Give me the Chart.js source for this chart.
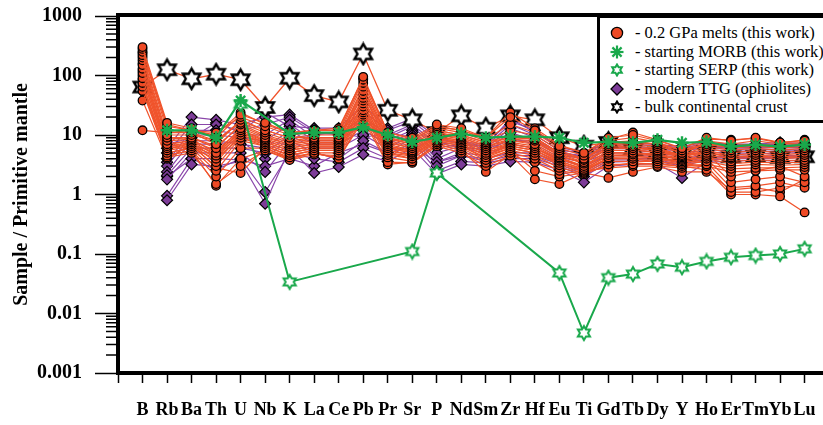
<!DOCTYPE html>
<html><head><meta charset="utf-8">
<script src="https://cdn.jsdelivr.net/npm/chart.js@4.4.1/dist/chart.umd.min.js"></script>
<style>
html,body{margin:0;padding:0;background:#fff;overflow:hidden;}
#wrap{position:relative;width:823px;height:425px;overflow:hidden;}
#legend{position:absolute;left:597px;top:15px;width:250px;height:108px;border:3px solid #000;background:#fff;
 font-family:"Liberation Serif","DejaVu Serif","Times New Roman",Times,serif;font-size:16.5px;color:#000;padding-top:6px;box-sizing:border-box;}
.row{height:18.5px;line-height:18.5px;white-space:nowrap;display:flex;align-items:center;}
.row svg{margin-left:10px;margin-right:11px;flex:none;}
</style></head>
<body><div id="wrap"><canvas id="c" width="823" height="425"></canvas>
<div id="legend">
 <div class="row"><svg width="14" height="14"><circle cx="7" cy="7" r="5.6" fill="#EF4A25" stroke="#000" stroke-width="1.3"/></svg><span>- 0.2 GPa melts (this work)</span></div>
 <div class="row"><svg width="14" height="14"><g stroke="#19A84B" stroke-width="2.2"><line x1="7" y1="0.5" x2="7" y2="13.5"/><line x1="0.5" y1="7" x2="13.5" y2="7"/><line x1="2.4" y1="2.4" x2="11.6" y2="11.6"/><line x1="11.6" y1="2.4" x2="2.4" y2="11.6"/></g></svg><span>- starting MORB (this work)</span></div>
 <div class="row"><svg width="14" height="14"><polygon points="7,1.5 8.6,4.2 11.8,4.2 10.2,7 11.8,9.8 8.6,9.8 7,12.5 5.4,9.8 2.2,9.8 3.8,7 2.2,4.2 5.4,4.2" fill="#fff" stroke="#19A84B" stroke-width="2"/></svg><span>- starting SERP (this work)</span></div>
 <div class="row"><svg width="14" height="14"><polygon points="7,1 13,7 7,13 1,7" fill="#7D3C98" stroke="#000" stroke-width="1.3"/></svg><span>- modern TTG (ophiolites)</span></div>
 <div class="row"><svg width="14" height="14"><polygon points="7,1.5 8.6,4.2 11.8,4.2 10.2,7 11.8,9.8 8.6,9.8 7,12.5 5.4,9.8 2.2,9.8 3.8,7 2.2,4.2 5.4,4.2" fill="#fff" stroke="#000" stroke-width="2"/></svg><span>- bulk continental crust</span></div>
</div></div>
<script>
// ---------- data ----------
const categories = ['B','Rb','Ba','Th','U','Nb','K','La','Ce','Pb','Pr','Sr','P','Nd','Sm','Zr','Hf','Eu','Ti','Gd','Tb','Dy','Y','Ho','Er','Tm','Yb','Lu'];
const yTickValues = [0.001, 0.01, 0.1, 1, 10, 100, 1000];
const yTickLabels = ['0.001', '0.01', '0.1', '1', '10', '100', '1000'];
const yTitle = 'Sample / Primitive mantle';

// 0.2 GPa melts (this work)
const melt01 = [300, 16, 13, 9, 22, 16, 11, 12, 12, 95, 11, 9, 15, 13, 9, 20, 12, 6.5, 5, 9, 10, 8, 6, 9, 8, 9, 7.5, 8];
const melt02 = [280, 14, 12, 11, 20, 14, 10, 11, 11, 85, 10, 8, 14, 12, 8.5, 15, 11, 6, 4.5, 8, 9, 7.5, 5.5, 8, 7, 8, 7, 7.5];
const melt03 = [250, 12, 11, 7, 18, 12, 9, 10, 10, 75, 9, 7.5, 13, 11, 8, 12, 10, 5.5, 4, 7.5, 8, 7, 5, 7.5, 6.5, 7, 6.5, 7];
const melt04 = [220, 10, 10, 8, 16, 11, 8, 9, 9, 65, 8.5, 7, 12, 10, 7.5, 10, 9, 5, 3.8, 7, 7, 6.5, 5, 7, 6, 6.5, 6, 6.5];
const melt05 = [200, 9, 9, 6, 15, 10, 7.5, 8.5, 8.5, 55, 8, 6.5, 11, 9.5, 7, 9, 8.5, 4.8, 3.5, 6.5, 6.5, 6, 4.6, 6.5, 5.5, 6, 5.5, 6];
const melt06 = [180, 8, 8.5, 5, 13, 9, 7, 8, 8, 48, 7.5, 6, 11, 9, 6.5, 8.5, 8, 4.5, 3.3, 6, 6, 5.5, 4.4, 6, 5, 5.5, 5, 5.5];
const melt07 = [150, 7, 8, 4.5, 12, 8.5, 6.5, 7.5, 7.5, 42, 7, 5.5, 10, 8.5, 6, 8, 7, 4.2, 3, 5.5, 5.5, 5.2, 4.2, 5.5, 4.5, 5, 4.6, 5];
const melt08 = [130, 6.5, 7.5, 4, 11, 8, 6, 7, 7, 38, 6.5, 5.2, 9.5, 8, 5.5, 7.5, 6.5, 4, 2.8, 5, 5, 4.8, 4, 5, 4.2, 4.6, 4.3, 4.6];
const melt09 = [110, 6, 7, 3.5, 10, 7.5, 5.5, 6.5, 6.5, 34, 6, 5, 9, 7.5, 5, 7, 6, 3.7, 2.6, 4.6, 4.7, 4.5, 3.8, 4.6, 4, 4.2, 4, 4.2];
const melt10 = [90, 5.5, 6.5, 3, 9, 7, 5, 6, 6, 30, 5.5, 4.7, 8.5, 7, 4.6, 6.5, 5.5, 3.4, 2.5, 4.2, 4.3, 4.2, 3.6, 4.3, 3.6, 3.8, 3.7, 3.8];
const melt11 = [75, 5, 6, 2.5, 8, 6.5, 4.6, 5.5, 5.5, 26, 5, 4.4, 8, 6.5, 4.2, 6, 5, 3.1, 2.4, 4, 4, 3.9, 3.4, 4, 3.3, 3.5, 3.4, 3.5];
const melt12 = [65, 4.5, 5.5, 2, 6, 6, 4.2, 5, 5, 24, 4.6, 4, 7.5, 6, 3.8, 5.5, 4.5, 2.8, 2.3, 3.6, 3.6, 3.6, 3.2, 3.6, 3, 3.2, 3.1, 3.2];
const melt13 = [55, 4.2, 5, 1.5, 3, 5.5, 3.8, 4.7, 4.5, 22, 4.2, 3.6, 7, 5.5, 3.4, 5, 4, 2.5, 2.2, 3.2, 3.2, 3.3, 3, 3.2, 2.7, 2.8, 2.8, 2.9];
const melt14 = [38, 4, 7, 2.8, 2.3, 6, 4, 5, 4, 20, 3.5, 3.4, 6.5, 5, 3, 4.5, 3.5, 2.2, 2.5, 2.8, 3, 3, 2.8, 3, 2.4, 2.5, 2.6, 2.6];
const melt15 = [12, 11, 11, 8, 17, 12, 9, 9, 9, 60, 9, 7, 12, 10, 7.5, 9, 9, 5, 4, 7, 7.5, 7, 5.5, 7, 6.5, 7, 6.5, 7];
const melt16 = [240, 15, 12, 10, 24, 15, 11, 12, 13, 90, 11, 8.5, 14, 12, 9, 24, 13, 6.8, 5, 8.5, 11, 8.3, 6, 8.5, 8.3, 8.8, 7.4, 8.3];
const melt17 = [160, 8.5, 9, 6.5, 14, 9.5, 7, 8, 8, 50, 7.5, 6, 10, 9, 6.5, 8, 7.5, 4.5, 3.4, 6, 6, 5.8, 4.5, 5, 2, 2.5, 3, 2];
const melt18 = [120, 7, 8, 5.5, 12, 8, 6, 7, 7, 40, 6.5, 5.5, 9.5, 8, 5.5, 7, 6, 4, 3, 5, 5, 4.5, 4, 4, 1.6, 1.8, 2, 1.6];
const melt19 = [100, 6.5, 7, 5, 11, 7.5, 5.5, 6.5, 6.5, 32, 6, 5, 9, 7.5, 5, 6.5, 5.5, 3.6, 2.7, 4.5, 4.5, 4, 3.6, 3.5, 1.3, 1.4, 1.6, 1.3];
const melt20 = [85, 6, 6.5, 4.5, 10, 7, 5, 6, 6, 28, 5.5, 4.5, 8.5, 7, 4.5, 6, 5, 3.3, 2.6, 4, 4, 3.5, 3.3, 3, 1.1, 1.1, 1.3, 1.5];
const melt21 = [70, 5, 6, 4, 9, 6.5, 4.5, 5.5, 5.5, 25, 5, 4, 8, 6.5, 4, 5.5, 2.5, 2, 2.3, 3, 3.4, 3.2, 3, 2.6, 1, 1, 0.93, 0.5];
const melt22 = [60, 4.5, 5.5, 1.4, 4, 5.5, 4, 5, 4, 18, 3.2, 3.5, 7, 5.5, 2.4, 4.7, 1.8, 1.5, 2.3, 1.9, 2.4, 2.9, 2.4, 2.4, 1.2, 1.3, 1.1, 1.8];

// modern TTG (ophiolites)
const ttg01 = [null, 0.8, 3.2, 3, 3.6, 0.7, 6, 2.3, 2.9, 4.7, 3.6, 6, 2.2, 3.2, 3, 3.6, 3.5, 2.6, 1.6, 3, 3.2, 3.3, 1.9, 3.5, 3.6, 3.8, 3.6, 3.8];
const ttg02 = [null, 0.95, 4, 2.6, 4, 1.1, 5, 4, 3.5, 6, 4, 8, 2.5, 3.6, 3.4, 4, 4, 3, 2, 3.5, 3.6, 3.6, 3, 3.8, 4, 4, 4, 4.2];
const ttg03 = [null, 1.8, 5, 5, 5, 2.4, 8, 5, 4, 8, 5, 9, 3, 4.5, 4, 5, 5, 3.4, 2.4, 4, 4, 4, 3.5, 4.2, 4.4, 4.4, 4.5, 4.6];
const ttg04 = [null, 2.1, 6, 6, 6, 5, 10, 6, 6, 10, 6, 10, 3.5, 5, 4.5, 7, 6, 3.8, 3, 4.5, 4.5, 4.4, 4, 4.6, 4.8, 4.8, 5, 5];
const ttg05 = [null, 2.4, 8, 8, 7, 6, 12, 7, 7, 12, 7, 11, 4, 6, 5, 9, 7, 4.2, 3.5, 5, 5, 4.8, 4.5, 5, 5.2, 5.2, 5.4, 5.4];
const ttg06 = [null, 3, 10, 10, 9, 8, 15, 8, 8, 15, 8, 12, 5, 6.5, 5.5, 11, 8, 4.6, 4, 5.5, 5.5, 5.2, 5, 5.5, 5.6, 5.6, 5.8, 5.8];
const ttg07 = [null, 3.5, 12, 12, 10, 10, 18, 9, 9, 18, 9, 14, 6, 7, 6, 13, 9, 5, 4.5, 6, 6, 5.6, 5.5, 6, 6, 6, 6.2, 6.2];
const ttg08 = [null, 5, 15, 15, 12, 15, 20, 11, 10, 20, 10, 15, 7, 7.5, 6.5, 15, 10, 5.5, 5, 6.5, 6.5, 6, 6, 6.5, 6.4, 6.4, 6.6, 6.6];
const ttg09 = [null, 6, 20, 18, 15, 20, 22, 12, 12, 25, 12, 17, 8, 7.7, 7, 17, 12, 6, 5.5, 7, 7, 6.5, 6.2, 7, 6.8, 6.8, 7, 7];
const ttg10 = [null, 7, 9, 16, 11, 24, 14, 13, 13, 32, 13, 19, 9, 7, 6.5, 19, 11, 6.5, 4.8, 8, 7.5, 6.8, 6.5, 7.5, 7, 7, 7.5, 7.2];
const ttg11 = [null, 2, 4, 4, 3.8, 3, 4, 3, 5, 7, 5, 6.5, 3.5, 4.5, 3.6, 4.5, 4.5, 3.2, 2.2, 3.8, 3.8, 3.8, 3.2, 4, 4.2, 4.2, 4.2, 4.4];
const ttg12 = [null, 4, 7, 7, 8, 4, 9, 10, 11, 9, 11, 9, 7.5, 6, 5.8, 8, 8, 5.2, 4.2, 6, 6.2, 5.8, 5.8, 6.2, 6.2, 6.2, 6.4, 6.4];

// starting MORB, starting SERP, bulk continental crust
const morb  = [null, 12, 12, 9, 38, null, 10.5, 11, 11, 13.5, 10, 7.7, 9, 10.5, 9, 9.4, 9.4, 9, 7.4, 7.7, 7.4, 8.3, 7.4, 7.7, 6.4, 6.9, 6.4, 6.9];
const serp  = [null, null, null, null, 33, null, 0.034, null, null, null, null, 0.11, 2.3, null, null, null, null, 0.048, 0.0047, 0.04, 0.046, 0.068, 0.06, 0.075, 0.088, 0.094, 0.1, 0.122];
const crust = [64, 125, 88, 105, 85, 29, 90, 46, 36, 230, 26, 18, 11, 21, 13, 21, 18, 9, 6.5, 7.5, 5.7, 5, 4.7, 5.2, 4.3, 4.4, 4.2, 4.3];

const meltSeries = [melt01, melt02, melt03, melt04, melt05, melt06, melt07, melt08, melt09, melt10, melt11,
  melt12, melt13, melt14, melt15, melt16, melt17, melt18, melt19, melt20, melt21, melt22];
const ttgSeries = [ttg01, ttg02, ttg03, ttg04, ttg05, ttg06, ttg07, ttg08, ttg09, ttg10, ttg11, ttg12];

// ---------- styling helpers ----------
const RED = '#EF4A25', RED_LINE = '#F0532B', PURPLE = '#7D3C98', PURPLE_LINE = '#8A46AA', GREEN = '#19A84B';
function hexagram(size, stroke, lw) {
  const c = document.createElement('canvas');
  c.width = size; c.height = size;
  const g = c.getContext('2d');
  const cx = size / 2, cy = size / 2, R = size / 2 - lw, r = R / Math.sqrt(3);
  g.beginPath();
  for (let k = 0; k < 12; k++) {
    const ang = -Math.PI / 2 + k * Math.PI / 6;
    const rad = k % 2 === 0 ? R : r;
    const px = cx + rad * Math.cos(ang), py = cy + rad * Math.sin(ang);
    k === 0 ? g.moveTo(px, py) : g.lineTo(px, py);
  }
  g.closePath();
  g.fillStyle = '#fff'; g.fill();
  g.lineWidth = lw; g.strokeStyle = stroke; g.lineJoin = 'miter'; g.stroke();
  return c;
}
const toPoints = arr => arr.map((v, i) => ({x: i + 1, y: v})).filter(p => p.y !== null);

const datasets = [];
datasets.push({data: toPoints(morb), borderColor: GREEN, borderWidth: 2.2, pointStyle: 'star', pointRadius: 6.5,
  pointBorderColor: GREEN, pointBorderWidth: 2.4, pointBackgroundColor: GREEN, order: 0});
datasets.push({data: toPoints(serp), borderColor: GREEN, borderWidth: 2, pointStyle: hexagram(18, GREEN, 2), pointRadius: 8, order: 1});
meltSeries.forEach(s => datasets.push({data: toPoints(s), borderColor: RED_LINE, borderWidth: 1.2, pointStyle: 'circle',
  pointRadius: 4.3, pointBackgroundColor: RED, pointBorderColor: '#000', pointBorderWidth: 1.3, order: 2}));
datasets.push({data: toPoints(crust), borderColor: RED_LINE, borderWidth: 1.3, pointStyle: hexagram(25, '#000', 2.4), pointRadius: 11, order: 3});
ttgSeries.forEach(s => datasets.push({data: toPoints(s), borderColor: PURPLE_LINE, borderWidth: 1.2, pointStyle: 'rectRot',
  pointRadius: 5.5, pointBackgroundColor: PURPLE, pointBorderColor: '#000', pointBorderWidth: 1.2, order: 4}));

const frame = {
  id: 'frame',
  afterDraw(chart) {
    const {ctx, chartArea: a, scales: {y}} = chart;
    ctx.save();
    ctx.strokeStyle = '#000';
    ctx.lineWidth = 1.5;
    ctx.beginPath();
    for (let d = 0; d < yTickValues.length - 1; d++) {
      for (let k = 2; k <= 9; k++) {
        const py = y.getPixelForValue(yTickValues[d] * k);
        ctx.moveTo(a.left - 12, py); ctx.lineTo(a.left, py);
      }
    }
    ctx.stroke();
    ctx.lineWidth = 4;
    ctx.beginPath(); ctx.moveTo(a.left - 2, a.top - 1); ctx.lineTo(a.right + 2, a.top - 1); ctx.stroke();
    ctx.restore();
  }
};

const noEdgePadding = s => { s.paddingTop = 0; s.paddingBottom = 0; s.paddingLeft = 0; s.paddingRight = 0; };
const serif = '"Liberation Serif","DejaVu Serif","Times New Roman",Times,serif';
new Chart(document.getElementById('c'), {
  type: 'line',
  data: {datasets},
  plugins: [frame],
  options: {
    responsive: false, animation: false, events: [],
    layout: {autoPadding: false, padding: {top: 16, right: 0, left: 0, bottom: 0}},
    plugins: {legend: {display: false}, tooltip: {enabled: false}},
    elements: {line: {tension: 0}},
    scales: {
      x: {
        type: 'linear', min: 0, max: 28.75,
        afterFit: s => { s.height = 52; noEdgePadding(s); },
        afterBuildTicks: s => { s.ticks = categories.map((c, i) => ({value: i})).concat([{value: categories.length}]); },
        border: {color: '#000', width: 4},
        grid: {drawOnChartArea: false, drawTicks: true, tickLength: 10, tickColor: '#000', tickWidth: 1.5},
        ticks: {autoSkip: false, maxRotation: 0, minRotation: 0, padding: 17, color: '#000',
          font: {family: serif, size: 18, weight: 'bold'},
          callback: v => (v >= 1 && v <= categories.length) ? categories[v - 1] : ''}
      },
      y: {
        type: 'logarithmic', min: 0.001, max: 1000,
        afterFit: s => { s.width = 118; noEdgePadding(s); },
        afterBuildTicks: s => { s.ticks = yTickValues.map(v => ({value: v})); },
        border: {color: '#000', width: 4},
        grid: {drawOnChartArea: false, drawTicks: true, tickLength: 23, tickColor: '#000', tickWidth: 1.5},
        ticks: {padding: 13, color: '#000', font: {family: serif, size: 20, weight: 'bold'},
          callback: (v) => { const i = yTickValues.indexOf(v); return i >= 0 ? yTickLabels[i] : ''; }},
        title: {display: true, text: yTitle, color: '#000', padding: {top: 10, bottom: 0},
          font: {family: serif, size: 20, weight: 'bold'}}
      }
    }
  }
});
</script>
</body></html>
